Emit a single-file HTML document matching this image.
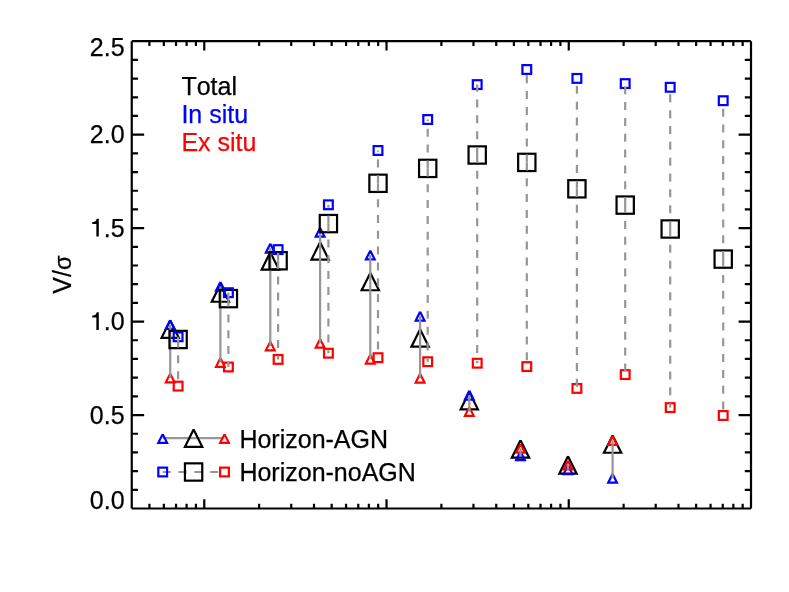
<!DOCTYPE html>
<html><head><meta charset="utf-8"><title>V/sigma</title>
<style>html,body{margin:0;padding:0;background:#fff}body{width:789px;height:592px;overflow:hidden;font-family:"Liberation Sans",sans-serif}</style></head>
<body>
<svg width="789" height="592" viewBox="0 0 789 592" style="display:block;will-change:transform">
<rect width="789" height="592" fill="#fff"/>
<g fill="none" stroke-width="2.2" stroke-linecap="butt" stroke-linejoin="miter">
<path d="M170.20 320.55L178.85 337.85L161.55 337.85L170.20 320.55" stroke="#000"/>
<path d="M220.40 284.45L229.05 301.75L211.75 301.75L220.40 284.45" stroke="#000"/>
<path d="M270.30 252.25L278.95 269.55L261.65 269.55L270.30 252.25" stroke="#000"/>
<path d="M320.10 242.25L328.75 259.55L311.45 259.55L320.10 242.25" stroke="#000"/>
<path d="M370.30 272.95L378.95 290.25L361.65 290.25L370.30 272.95" stroke="#000"/>
<path d="M420.10 329.35L428.75 346.65L411.45 346.65L420.10 329.35" stroke="#000"/>
<path d="M469.30 392.05L477.95 409.35L460.65 409.35L469.30 392.05" stroke="#000"/>
<path d="M520.50 440.35L529.15 457.65L511.85 457.65L520.50 440.35" stroke="#000"/>
<path d="M568.00 456.35L576.65 473.65L559.35 473.65L568.00 456.35" stroke="#000"/>
<path d="M612.60 435.45L621.25 452.75L603.95 452.75L612.60 435.45" stroke="#000"/>
<path d="M170.20 320.12L174.58 328.88L165.82 328.88L170.20 320.12" stroke="#00f"/>
<path d="M220.40 281.92L224.78 290.68L216.02 290.68L220.40 281.92" stroke="#00f"/>
<path d="M270.30 243.82L274.68 252.58L265.92 252.58L270.30 243.82" stroke="#00f"/>
<path d="M320.10 227.87L324.48 236.63L315.72 236.63L320.10 227.87" stroke="#00f"/>
<path d="M370.30 250.62L374.68 259.38L365.92 259.38L370.30 250.62" stroke="#00f"/>
<path d="M420.10 311.82L424.48 320.58L415.72 320.58L420.10 311.82" stroke="#00f"/>
<path d="M469.30 390.82L473.68 399.58L464.92 399.58L469.30 390.82" stroke="#00f"/>
<path d="M520.50 451.42L524.88 460.18L516.12 460.18L520.50 451.42" stroke="#00f"/>
<path d="M568.00 465.32L572.38 474.08L563.62 474.08L568.00 465.32" stroke="#00f"/>
<path d="M612.60 473.92L616.98 482.68L608.22 482.68L612.60 473.92" stroke="#00f"/>
<path d="M170.20 373.62L174.58 382.38L165.82 382.38L170.20 373.62" stroke="#f00"/>
<path d="M220.40 358.02L224.78 366.78L216.02 366.78L220.40 358.02" stroke="#f00"/>
<path d="M270.30 341.62L274.68 350.38L265.92 350.38L270.30 341.62" stroke="#f00"/>
<path d="M320.10 338.92L324.48 347.68L315.72 347.68L320.10 338.92" stroke="#f00"/>
<path d="M370.30 354.82L374.68 363.58L365.92 363.58L370.30 354.82" stroke="#f00"/>
<path d="M420.10 373.82L424.48 382.58L415.72 382.58L420.10 373.82" stroke="#f00"/>
<path d="M469.30 407.12L473.68 415.88L464.92 415.88L469.30 407.12" stroke="#f00"/>
<path d="M520.50 443.92L524.88 452.68L516.12 452.68L520.50 443.92" stroke="#f00"/>
<path d="M568.00 460.72L572.38 469.48L563.62 469.48L568.00 460.72" stroke="#f00"/>
<path d="M612.60 436.02L616.98 444.78L608.22 444.78L612.60 436.02" stroke="#f00"/>
<path d="M170.20 329.20L170.20 324.50" stroke="#969696"/>
<path d="M170.20 329.20L170.20 378.00" stroke="#969696"/>
<path d="M220.40 293.10L220.40 286.30" stroke="#969696"/>
<path d="M220.40 293.10L220.40 362.40" stroke="#969696"/>
<path d="M270.30 260.90L270.30 248.20" stroke="#969696"/>
<path d="M270.30 260.90L270.30 346.00" stroke="#969696"/>
<path d="M320.10 250.90L320.10 232.25" stroke="#969696"/>
<path d="M320.10 250.90L320.10 343.30" stroke="#969696"/>
<path d="M370.30 281.60L370.30 255.00" stroke="#969696"/>
<path d="M370.30 281.60L370.30 359.20" stroke="#969696"/>
<path d="M420.10 338.00L420.10 316.20" stroke="#969696"/>
<path d="M420.10 338.00L420.10 378.20" stroke="#969696"/>
<path d="M469.30 400.70L469.30 395.20" stroke="#969696"/>
<path d="M469.30 400.70L469.30 411.50" stroke="#969696"/>
<path d="M520.50 449.00L520.50 455.80" stroke="#969696"/>
<path d="M520.50 449.00L520.50 448.30" stroke="#969696"/>
<path d="M568.00 465.00L568.00 469.70" stroke="#969696"/>
<path d="M568.00 465.00L568.00 465.10" stroke="#969696"/>
<path d="M612.60 444.10L612.60 478.30" stroke="#969696"/>
<path d="M612.60 444.10L612.60 440.40" stroke="#969696"/>
<rect x="169.45" y="330.85" width="17.30" height="17.30" stroke="#000"/>
<rect x="219.75" y="289.95" width="17.30" height="17.30" stroke="#000"/>
<rect x="269.45" y="252.10" width="17.30" height="17.30" stroke="#000"/>
<rect x="319.75" y="214.95" width="17.30" height="17.30" stroke="#000"/>
<rect x="369.35" y="174.65" width="17.30" height="17.30" stroke="#000"/>
<rect x="419.05" y="159.75" width="17.30" height="17.30" stroke="#000"/>
<rect x="468.55" y="146.35" width="17.30" height="17.30" stroke="#000"/>
<rect x="518.15" y="153.75" width="17.30" height="17.30" stroke="#000"/>
<rect x="568.25" y="180.15" width="17.30" height="17.30" stroke="#000"/>
<rect x="616.55" y="196.45" width="17.30" height="17.30" stroke="#000"/>
<rect x="661.55" y="220.35" width="17.30" height="17.30" stroke="#000"/>
<rect x="714.55" y="250.45" width="17.30" height="17.30" stroke="#000"/>
<rect x="173.72" y="332.42" width="8.76" height="8.76" stroke="#00f"/>
<rect x="224.02" y="288.32" width="8.76" height="8.76" stroke="#00f"/>
<rect x="273.72" y="245.22" width="8.76" height="8.76" stroke="#00f"/>
<rect x="324.02" y="200.42" width="8.76" height="8.76" stroke="#00f"/>
<rect x="373.62" y="146.12" width="8.76" height="8.76" stroke="#00f"/>
<rect x="423.32" y="115.12" width="8.76" height="8.76" stroke="#00f"/>
<rect x="472.82" y="80.22" width="8.76" height="8.76" stroke="#00f"/>
<rect x="522.42" y="65.12" width="8.76" height="8.76" stroke="#00f"/>
<rect x="572.52" y="74.02" width="8.76" height="8.76" stroke="#00f"/>
<rect x="620.82" y="79.22" width="8.76" height="8.76" stroke="#00f"/>
<rect x="665.82" y="82.92" width="8.76" height="8.76" stroke="#00f"/>
<rect x="718.82" y="96.32" width="8.76" height="8.76" stroke="#00f"/>
<rect x="173.72" y="381.72" width="8.76" height="8.76" stroke="#f00"/>
<rect x="224.02" y="362.62" width="8.76" height="8.76" stroke="#f00"/>
<rect x="273.72" y="355.02" width="8.76" height="8.76" stroke="#f00"/>
<rect x="324.02" y="348.82" width="8.76" height="8.76" stroke="#f00"/>
<rect x="373.62" y="353.32" width="8.76" height="8.76" stroke="#f00"/>
<rect x="423.32" y="357.32" width="8.76" height="8.76" stroke="#f00"/>
<rect x="472.82" y="358.82" width="8.76" height="8.76" stroke="#f00"/>
<rect x="522.42" y="362.22" width="8.76" height="8.76" stroke="#f00"/>
<rect x="572.52" y="384.02" width="8.76" height="8.76" stroke="#f00"/>
<rect x="620.82" y="370.22" width="8.76" height="8.76" stroke="#f00"/>
<rect x="665.82" y="403.22" width="8.76" height="8.76" stroke="#f00"/>
<rect x="718.82" y="411.12" width="8.76" height="8.76" stroke="#f00"/>
<path d="M178.10 339.50L178.10 336.80" stroke="#969696" stroke-dasharray="8 7.83"/>
<path d="M178.10 339.50L178.10 386.10" stroke="#969696" stroke-dasharray="8 7.83"/>
<path d="M228.40 298.60L228.40 292.70" stroke="#969696" stroke-dasharray="8 7.83"/>
<path d="M228.40 298.60L228.40 367.00" stroke="#969696" stroke-dasharray="8 7.83"/>
<path d="M278.10 260.75L278.10 249.60" stroke="#969696" stroke-dasharray="8 7.83"/>
<path d="M278.10 260.75L278.10 359.40" stroke="#969696" stroke-dasharray="8 7.83"/>
<path d="M328.40 223.60L328.40 204.80" stroke="#969696" stroke-dasharray="8 7.83"/>
<path d="M328.40 223.60L328.40 353.20" stroke="#969696" stroke-dasharray="8 7.83"/>
<path d="M378.00 183.30L378.00 150.50" stroke="#969696" stroke-dasharray="8 7.83"/>
<path d="M378.00 183.30L378.00 357.70" stroke="#969696" stroke-dasharray="8 7.83"/>
<path d="M427.70 168.40L427.70 119.50" stroke="#969696" stroke-dasharray="8 7.83"/>
<path d="M427.70 168.40L427.70 361.70" stroke="#969696" stroke-dasharray="8 7.83"/>
<path d="M477.20 155.00L477.20 84.60" stroke="#969696" stroke-dasharray="8 7.83"/>
<path d="M477.20 155.00L477.20 363.20" stroke="#969696" stroke-dasharray="8 7.83"/>
<path d="M526.80 162.40L526.80 69.50" stroke="#969696" stroke-dasharray="8 7.83"/>
<path d="M526.80 162.40L526.80 366.60" stroke="#969696" stroke-dasharray="8 7.83"/>
<path d="M576.90 188.80L576.90 78.40" stroke="#969696" stroke-dasharray="8 7.83"/>
<path d="M576.90 188.80L576.90 388.40" stroke="#969696" stroke-dasharray="8 7.83"/>
<path d="M625.20 205.10L625.20 83.60" stroke="#969696" stroke-dasharray="8 7.83"/>
<path d="M625.20 205.10L625.20 374.60" stroke="#969696" stroke-dasharray="8 7.83"/>
<path d="M670.20 229.00L670.20 87.30" stroke="#969696" stroke-dasharray="8 7.83"/>
<path d="M670.20 229.00L670.20 407.60" stroke="#969696" stroke-dasharray="8 7.83"/>
<path d="M723.20 259.10L723.20 100.70" stroke="#969696" stroke-dasharray="8 7.83"/>
<path d="M723.20 259.10L723.20 415.50" stroke="#969696" stroke-dasharray="8 7.83"/>
<path d="M162.70 438.15L224.50 438.15" stroke="#969696"/>
<path d="M162.70 472.00L224.50 472.00" stroke="#969696" stroke-dasharray="8 7.83"/>
<path d="M162.70 434.12L167.08 442.88L158.32 442.88L162.70 434.12" stroke="#00f"/>
<path d="M193.60 429.50L202.25 446.80L184.95 446.80L193.60 429.50" stroke="#000"/>
<path d="M224.50 434.12L228.88 442.88L220.12 442.88L224.50 434.12" stroke="#f00"/>
<rect x="158.32" y="467.62" width="8.76" height="8.76" stroke="#00f"/>
<rect x="184.95" y="463.35" width="17.30" height="17.30" stroke="#000"/>
<rect x="220.12" y="467.62" width="8.76" height="8.76" stroke="#f00"/>
<path d="M131.75 41.2H751.0M751.0 41.2V508.5M751.0 508.5H131.75M131.75 508.5V41.2" stroke="#000"/>
<path d="M149.41 508.5V503.80M149.41 41.2V45.90M163.84 508.5V503.80M163.84 41.2V45.90M176.04 508.5V503.80M176.04 41.2V45.90M186.61 508.5V503.80M186.61 41.2V45.90M195.93 508.5V503.80M195.93 41.2V45.90M204.27 508.5V499.20M204.27 41.2V50.50M259.13 508.5V503.80M259.13 41.2V45.90M291.22 508.5V503.80M291.22 41.2V45.90M313.99 508.5V503.80M313.99 41.2V45.90M331.65 508.5V503.80M331.65 41.2V45.90M346.08 508.5V503.80M346.08 41.2V45.90M358.28 508.5V503.80M358.28 41.2V45.90M368.85 508.5V503.80M368.85 41.2V45.90M378.18 508.5V503.80M378.18 41.2V45.90M386.51 508.5V499.20M386.51 41.2V50.50M441.38 508.5V503.80M441.38 41.2V45.90M473.47 508.5V503.80M473.47 41.2V45.90M496.24 508.5V503.80M496.24 41.2V45.90M513.90 508.5V503.80M513.90 41.2V45.90M528.33 508.5V503.80M528.33 41.2V45.90M540.53 508.5V503.80M540.53 41.2V45.90M551.10 508.5V503.80M551.10 41.2V45.90M560.42 508.5V503.80M560.42 41.2V45.90M568.76 508.5V499.20M568.76 41.2V50.50M623.62 508.5V503.80M623.62 41.2V45.90M655.71 508.5V503.80M655.71 41.2V45.90M678.48 508.5V503.80M678.48 41.2V45.90M696.14 508.5V503.80M696.14 41.2V45.90M710.57 508.5V503.80M710.57 41.2V45.90M722.77 508.5V503.80M722.77 41.2V45.90M733.34 508.5V503.80M733.34 41.2V45.90M742.66 508.5V503.80M742.66 41.2V45.90M131.75 489.81H137.95M751.0 489.81H744.80M131.75 471.12H137.95M751.0 471.12H744.80M131.75 452.42H137.95M751.0 452.42H744.80M131.75 433.73H137.95M751.0 433.73H744.80M131.75 415.04H144.15M751.0 415.04H738.60M131.75 396.35H137.95M751.0 396.35H744.80M131.75 377.66H137.95M751.0 377.66H744.80M131.75 358.96H137.95M751.0 358.96H744.80M131.75 340.27H137.95M751.0 340.27H744.80M131.75 321.58H144.15M751.0 321.58H738.60M131.75 302.89H137.95M751.0 302.89H744.80M131.75 284.20H137.95M751.0 284.20H744.80M131.75 265.50H137.95M751.0 265.50H744.80M131.75 246.81H137.95M751.0 246.81H744.80M131.75 228.12H144.15M751.0 228.12H738.60M131.75 209.43H137.95M751.0 209.43H744.80M131.75 190.74H137.95M751.0 190.74H744.80M131.75 172.04H137.95M751.0 172.04H744.80M131.75 153.35H137.95M751.0 153.35H744.80M131.75 134.66H144.15M751.0 134.66H738.60M131.75 115.97H137.95M751.0 115.97H744.80M131.75 97.28H137.95M751.0 97.28H744.80M131.75 78.58H137.95M751.0 78.58H744.80M131.75 59.89H137.95M751.0 59.89H744.80" stroke="#000"/>
</g>
<g font-family="Liberation Sans, sans-serif" font-size="25px" fill="#000" stroke="#000" stroke-width="0.25" style="font-kerning:none">
<text x="124.6" y="56" text-anchor="end">2.5</text>
<text x="124.6" y="143" text-anchor="end">2.0</text>
<text x="124.6" y="237" text-anchor="end">.5</text>
<path stroke="none" d="M96.37 236.40L96.37 224.05L92.25 224.05L92.25 222.10C95.45 221.65 96.05 221.20 96.75 218.70L98.80 218.70L98.80 236.40Z"/>
<text x="124.6" y="330" text-anchor="end">.0</text>
<path stroke="none" d="M96.37 329.90L96.37 317.55L92.25 317.55L92.25 315.60C95.45 315.15 96.05 314.70 96.75 312.20L98.80 312.20L98.80 329.90Z"/>
<text x="124.6" y="424" text-anchor="end">0.5</text>
<text x="124.6" y="509" text-anchor="end">0.0</text>
<text x="181.4" y="95">Total</text>
<text x="181.4" y="123" fill="#00f" stroke="#00f">In situ</text>
<text x="181.4" y="151" fill="#f00" stroke="#f00">Ex situ</text>
<text x="239.4" y="448">Horizon-AGN</text>
<text x="239.4" y="481">Horizon-noAGN</text>
<text transform="translate(70.8 274.6) rotate(-90)" text-anchor="middle">V/<tspan font-size="23.5px">σ</tspan></text>
</g>
</svg>
</body></html>
